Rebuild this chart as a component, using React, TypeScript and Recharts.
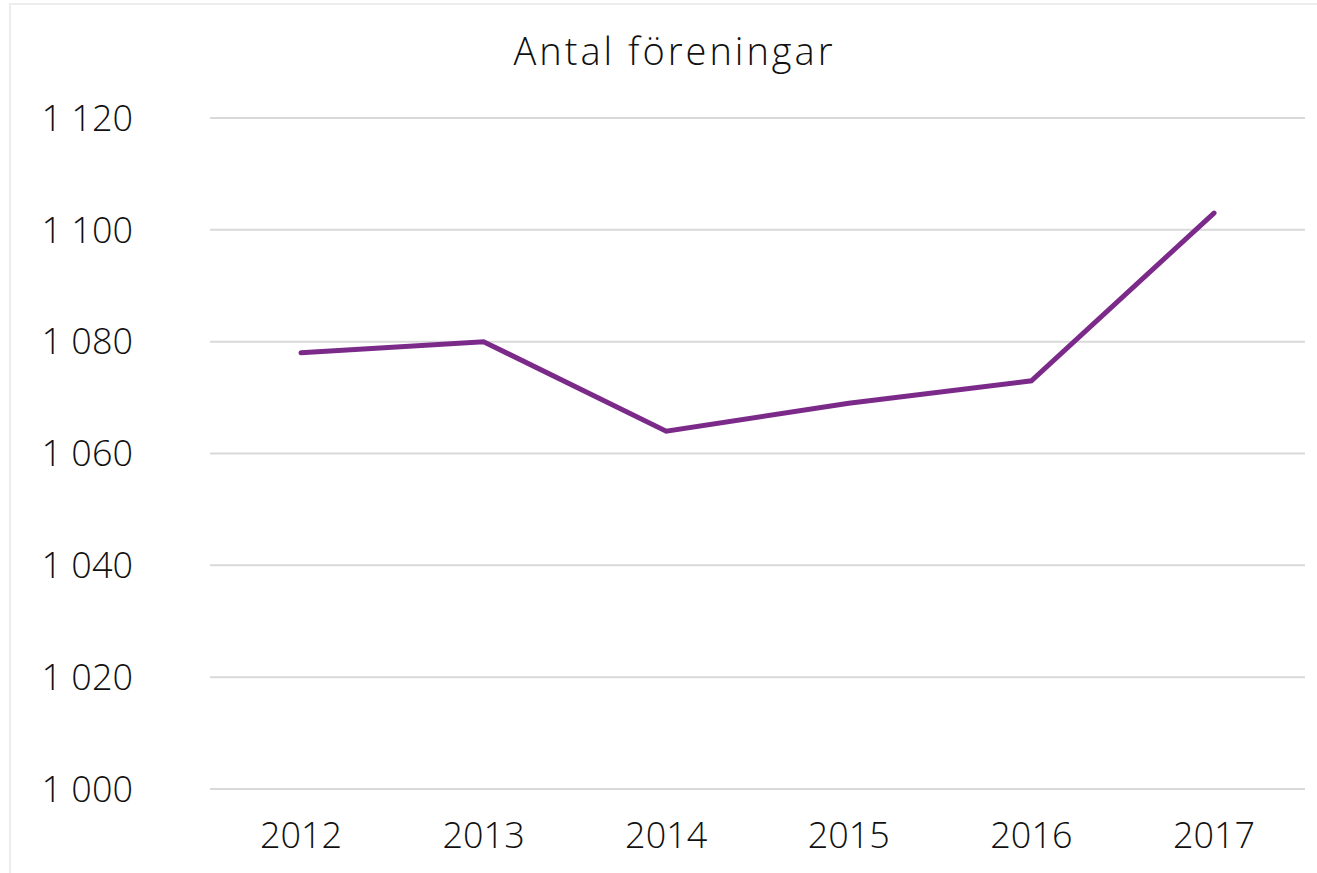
import React from 'react';
import { LineChart, Line, XAxis, YAxis, CartesianGrid } from 'recharts';

const years = ['2012', '2013', '2014', '2015', '2016', '2017'];
const foreningar = [1078, 1080, 1064, 1069, 1073, 1103];
const yTicks = [1000, 1020, 1040, 1060, 1080, 1100, 1120];

const data = years.map((year, i) => ({ year, value: foreningar[i] }));

const fmt = (v: number) => {
  const s = String(v);
  return s.length > 3 ? `${s.slice(0, s.length - 3)} ${s.slice(-3)}` : s;
};

const font = '"Open Sans", Lato, sans-serif';

const App: React.FC = () => (
  <div style={{ position: 'absolute', left: 0, top: 0, width: 1317, height: 873, background: '#fff', overflow: 'hidden' }}>
    <div
      style={{
        position: 'absolute', left: 9, top: 3, width: 1400, height: 900,
        border: '2px solid #ededed', boxSizing: 'border-box',
      }}
    />
    <div
      style={{
        position: 'absolute', left: 3, top: 31, width: 1343, textAlign: 'center',
        fontFamily: font, fontSize: 38, lineHeight: '38px', color: '#111', fontWeight: 300,
        letterSpacing: 3,
      }}
    >
      Antal föreningar
    </div>
    <div style={{ position: 'absolute', left: 0, top: 0 }}>
      <LineChart width={1317} height={873} data={data} margin={{ top: 118, right: 12, left: 0, bottom: 0 }}>
        <CartesianGrid vertical={false} stroke="#d9d9d9" strokeWidth={2} />
        <XAxis
          dataKey="year"
          height={84}
          padding={{ left: 91, right: 91 }}
          axisLine={false}
          tickLine={false}
          tickSize={0}
          tickMargin={33}
          tick={{ fontSize: 36, fill: '#111', fontFamily: font, fontWeight: 300 }}
        />
        <YAxis
          width={210}
          domain={[1000, 1120]}
          ticks={yTicks}
          tickFormatter={fmt}
          axisLine={false}
          tickLine={false}
          tickSize={0}
          tickMargin={77}
          tick={{ fontSize: 36, fill: '#111', fontFamily: font, fontWeight: 300 }}
        />
        <Line
          type="linear"
          dataKey="value"
          stroke="#7b2a8a"
          strokeWidth={5}
          dot={false}
          strokeLinecap="round"
          isAnimationActive={false}
        />
      </LineChart>
    </div>
  </div>
);

export default App;
